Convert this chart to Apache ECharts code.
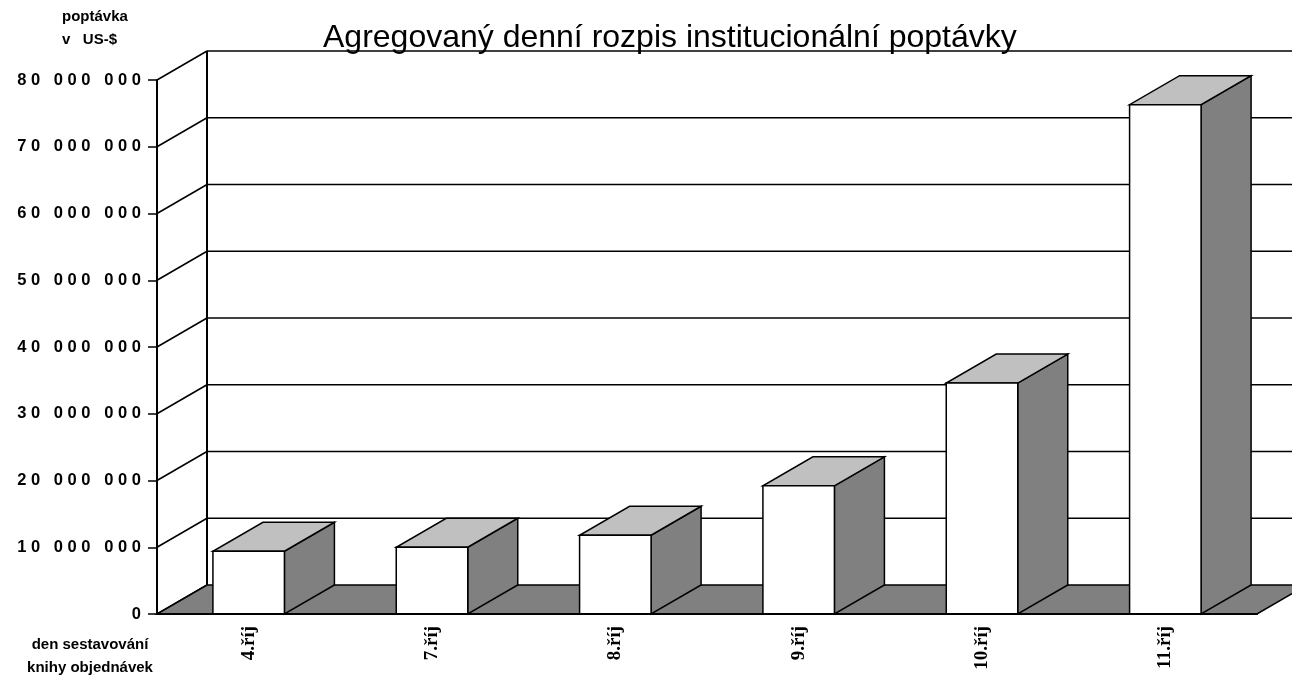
<!DOCTYPE html>
<html>
<head>
<meta charset="utf-8">
<title>Agregovaný denní rozpis institucionální poptávky</title>
<script src="https://cdn.jsdelivr.net/npm/echarts@6/dist/echarts.min.js"></script>
<style>
html, body { margin: 0; padding: 0; background: #fff; }
#chart { width: 1292px; height: 683px; }
</style>
</head>
<body>
<div id="chart"></div>
<script>
const categories = ['4.říj', '7.říj', '8.říj', '9.říj', '10.říj', '11.říj']
const demand = [9400000, 10000000, 11800000, 19200000, 34600000, 76300000]
const yTicks = [0, 10000000, 20000000, 30000000, 40000000, 50000000, 60000000, 70000000, 80000000]

// fake 3d depth, in pixels
const DX = 50
const DY = -29
const sansFont = "'Liberation Sans', Arial, sans-serif"
const serifFont = "'Liberation Serif', 'Times New Roman', serif"
const edge = { stroke: '#000', lineWidth: 1.5 }

// "80 000 000" drawn with wide letter spacing
const spaced = (v) =>
  String(v).replace(/\B(?=(\d{3})+(?!\d))/g, ' ').split('').join(' ')

// side wall diagonals + back wall grid lines
const renderWall = (params, api) => {
  const cs = params.coordSys
  const v = api.value(1)
  const y = api.coord([0, v])[1]
  const children = [
    { type: 'line', shape: { x1: cs.x, y1: y, x2: cs.x + DX, y2: y + DY }, style: edge }
  ]
  if (v > 0) {
    children.push({
      type: 'line',
      shape: { x1: cs.x + DX, y1: y + DY, x2: cs.x + cs.width + DX, y2: y + DY },
      style: edge
    })
  }
  return { type: 'group', children }
}

const renderFloor = (params, api) => {
  const cs = params.coordSys
  const base = api.coord([0, 0])[1]
  const top = api.coord([0, yTicks[yTicks.length - 1]])[1]
  return {
    type: 'group',
    children: [
      {
        type: 'polygon',
        shape: {
          points: [
            [cs.x, base],
            [cs.x + cs.width, base],
            [cs.x + cs.width + DX, base + DY],
            [cs.x + DX, base + DY]
          ]
        },
        style: { fill: '#808080', stroke: '#000', lineWidth: 1.5 }
      },
      {
        type: 'line',
        shape: { x1: cs.x + DX, y1: base + DY, x2: cs.x + DX, y2: top + DY },
        style: { stroke: '#000', lineWidth: 2 }
      }
    ]
  }
}

const renderBar = (params, api) => {
  const i = api.value(0)
  const topPt = api.coord([i, api.value(1)])
  const basePt = api.coord([i, 0])
  const w = api.size([1, 0])[0] * 0.39
  const x = topPt[0] - w / 2
  const t = topPt[1]
  const b = basePt[1]
  return {
    type: 'group',
    children: [
      {
        type: 'polygon',
        shape: { points: [[x + w, t], [x + w + DX, t + DY], [x + w + DX, b + DY], [x + w, b]] },
        style: { fill: '#808080', stroke: '#000', lineWidth: 1.5 }
      },
      {
        type: 'polygon',
        shape: { points: [[x, t], [x + w, t], [x + w + DX, t + DY], [x + DX, t + DY]] },
        style: { fill: '#c0c0c0', stroke: '#000', lineWidth: 1.5 }
      },
      {
        type: 'rect',
        shape: { x: x, y: t, width: w, height: b - t },
        style: { fill: '#fff', stroke: '#000', lineWidth: 1.5 }
      }
    ]
  }
}

const chart = echarts.init(document.getElementById('chart'))

chart.setOption({
  animation: false,
  backgroundColor: '#fff',
  title: {
    text: 'Agregovaný denní rozpis institucionální poptávky',
    left: 318,
    top: 17,
    textStyle: { fontFamily: sansFont, fontSize: 32, fontWeight: 'normal', color: '#000' }
  },
  graphic: [
    {
      type: 'text',
      x: 62,
      y: 5,
      style: {
        text: 'poptávka\nv   US-$',
        font: 'bold 15px ' + sansFont,
        lineHeight: 23,
        fill: '#000'
      }
    },
    {
      type: 'text',
      x: 90,
      y: 645,
      style: {
        text: 'den sestavování',
        font: 'bold 15px ' + sansFont,
        align: 'center',
        verticalAlign: 'middle',
        fill: '#000'
      }
    },
    {
      type: 'text',
      x: 90,
      y: 668,
      style: {
        text: 'knihy objednávek',
        font: 'bold 15px ' + sansFont,
        align: 'center',
        verticalAlign: 'middle',
        fill: '#000'
      }
    }
  ],
  grid: {
    left: 157,
    top: 80,
    width: 1100,
    height: 534
  },
  xAxis: {
    type: 'category',
    data: categories,
    z: 10,
    axisLine: { lineStyle: { color: '#000', width: 2 } },
    axisTick: { length: 8, lineStyle: { color: '#000', width: 2 } },
    axisLabel: {
      rotate: 90,
      margin: 12,
      color: '#000',
      fontFamily: serifFont,
      fontWeight: 'bold',
      fontSize: 19
    }
  },
  yAxis: {
    type: 'value',
    min: 0,
    max: 80000000,
    interval: 10000000,
    z: 10,
    axisLine: { show: true, lineStyle: { color: '#000', width: 2 } },
    axisTick: { show: true, length: 9, lineStyle: { color: '#000', width: 1.5 } },
    splitLine: { show: false },
    axisLabel: {
      margin: 16,
      color: '#000',
      fontFamily: sansFont,
      fontWeight: 'bold',
      fontSize: 16.5,
      formatter: spaced
    }
  },
  series: [
    {
      type: 'custom',
      clip: false,
      silent: true,
      z: 1,
      renderItem: renderWall,
      data: yTicks.map((v) => [0, v])
    },
    {
      type: 'custom',
      clip: false,
      silent: true,
      z: 2,
      renderItem: renderFloor,
      data: [[0, 0]]
    },
    {
      type: 'custom',
      clip: false,
      z: 3,
      renderItem: renderBar,
      data: demand.map((v, i) => [i, v])
    }
  ]
})
</script>
</body>
</html>
